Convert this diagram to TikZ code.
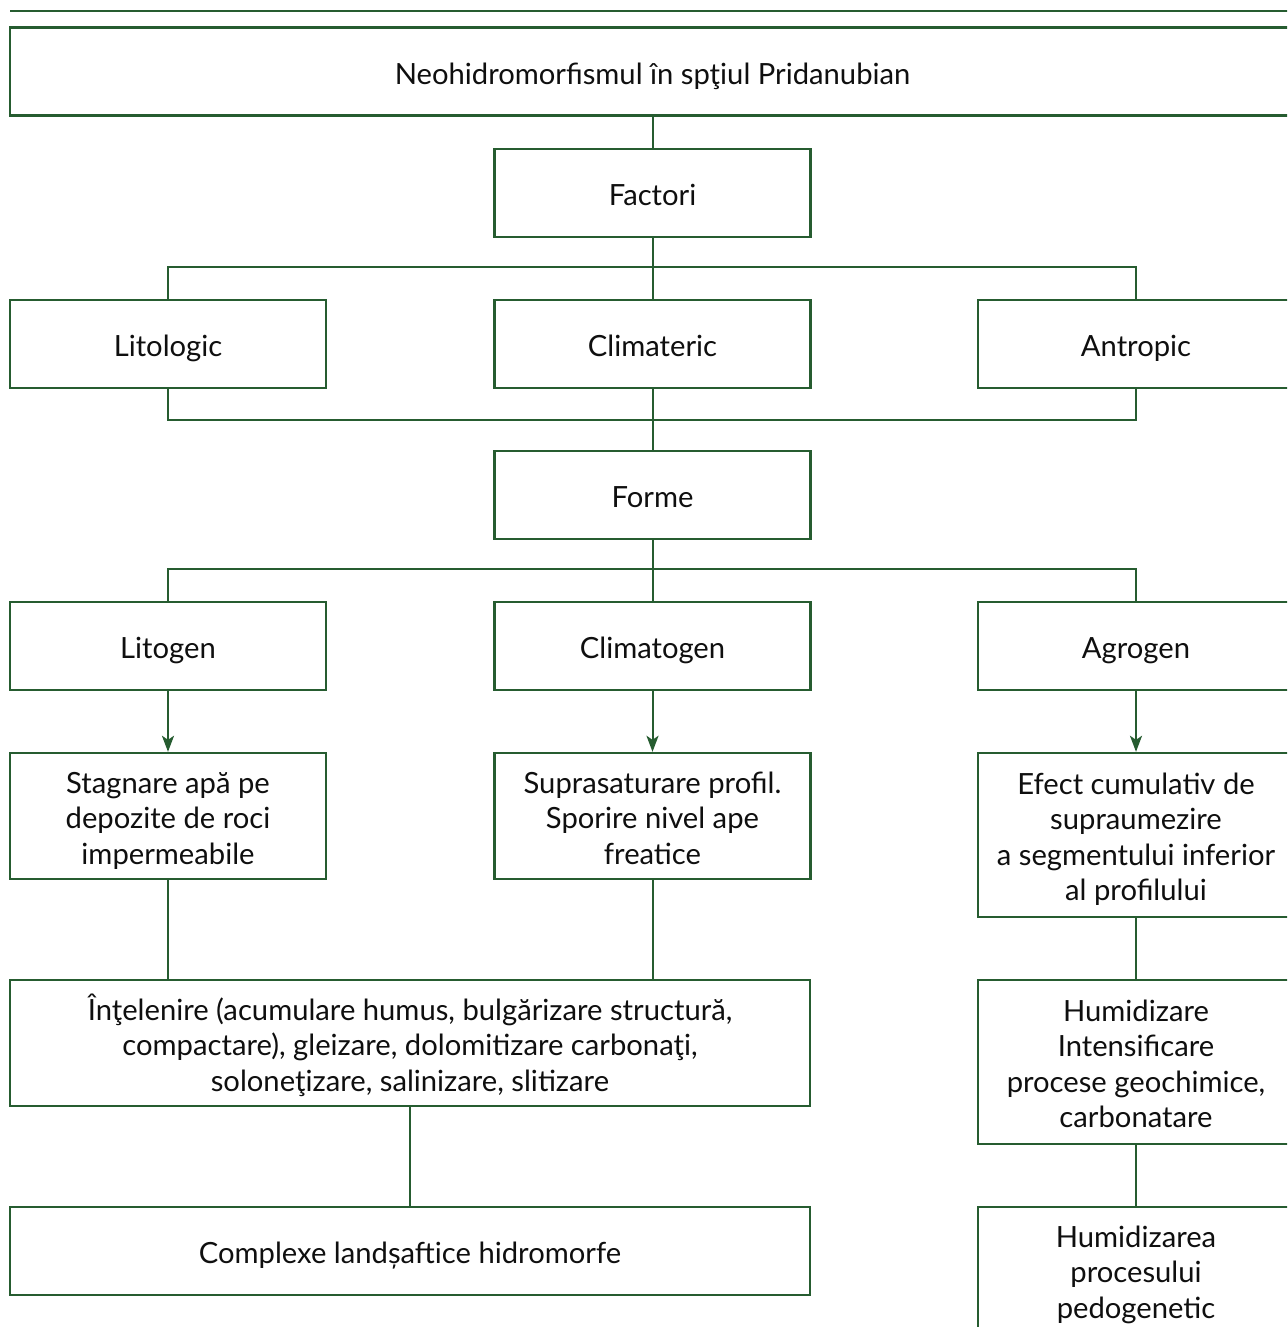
\documentclass[tikz,border=0pt]{standalone}
\usepackage{fontspec}
\setmainfont{Lato}
\usetikzlibrary{arrows.meta}
\definecolor{forest}{RGB}{38,92,48}
\definecolor{ink}{RGB}{15,15,15}
% vertical struts that keep every label at the same optical height
\newcommand{\topstrut}{\rule{0pt}{36pt}}
\newcommand{\botstrut}{\rule[-10.65pt]{0pt}{10.65pt}}
\begin{document}
\begin{tikzpicture}[x=1pt,y=-1pt,
  box/.style={draw=forest,line width=2.4pt,fill=white,minimum width=316pt,
    minimum height=88pt,inner sep=0pt,align=center,text=ink,
    font=\fontsize{29.2}{35.5}\selectfont},
  onerow/.style={box,execute at begin node=\topstrut,execute at end node=\botstrut},
  link/.style={draw=forest,line width=2pt},
  arr/.style={link,-{Stealth[length=16pt,width=12pt,inset=4pt]}}]
\useasboundingbox (0,0) rectangle (1287,1327);
\clip (0,0) rectangle (1287,1327);
\fill[white] (0,0) rectangle (1287,1327);

% heading rule
\coordinate (ruleL) at (10,11);
\coordinate (ruleR) at (1300,11);
\draw[link] (ruleL) -- (ruleR);

% title and factors
\node[onerow,minimum width=1285pt] (top) at (652.5,71.5) {Neohidromorfismul în spţiul Pridanubian};
\node[onerow] (factori) at (652.5,193) {Factori};
\node[onerow] (lito) at (168,344) {Litologic};
\node[onerow] (clim) at (652.5,344) {Climateric};
\node[onerow] (antr) at (1136,344) {Antropic};

% forms
\node[onerow] (forme) at (652.5,495) {Forme};
\node[onerow] (litogen) at (168,646) {Litogen};
\node[onerow] (climatogen) at (652.5,646) {Climatogen};
\node[onerow] (agrogen) at (1136,646) {Agrogen};

% consequences
\node[box,minimum height=126pt] (stag) at (168,816)
  {\topstrut Stagnare apă pe\\depozite de roci\\impermeabile\botstrut};
\node[box,minimum height=126pt] (supra) at (652.5,816)
  {\topstrut Suprasaturare profil.\\Sporire nivel ape\\freatice\botstrut};
\node[box,minimum height=164pt] (efect) at (1136,835)
  {\topstrut Efect cumulativ de\\supraumezire\\a segmentului inferior\\al profilului\botstrut};

\node[box,minimum width=800pt,minimum height=126pt] (intel) at (410,1043)
  {\topstrut Înţelenire (acumulare humus, bulgărizare structură,\\compactare), gleizare, dolomitizare carbonaţi,\\soloneţizare, salinizare, slitizare\botstrut};
\node[box,minimum height=164pt] (humid) at (1136,1062)
  {\topstrut Humidizare\\Intensificare\\procese geochimice,\\carbonatare\botstrut};

\node[onerow,minimum width=800pt] (complexe) at (410,1251) {Complexe landșaftice hidromorfe};
\node[box,minimum height=126pt] (humidp) at (1136,1270)
  {\topstrut Humidizarea\\procesului\\pedogenetic\botstrut};

% connectors
\draw[link] (top.south) -- (factori.north);
\draw[link] (factori.south) -- (clim.north);
\draw[link] (lito.north) -- ++(0,-32) -| (antr.north);
\draw[link] (lito.south) -- ++(0,31) -| (antr.south);
\draw[link] (clim.south) -- (forme.north);
\draw[link] (forme.south) -- (climatogen.north);
\draw[link] (litogen.north) -- ++(0,-32) -| (agrogen.north);

\draw[arr] (litogen.south) -- (stag.north);
\draw[arr] (climatogen.south) -- (supra.north);
\draw[arr] (agrogen.south) -- (efect.north);

\draw[link] (stag.south) -- (stag.south |- intel.north);
\draw[link] (supra.south) -- (supra.south |- intel.north);
\draw[link] (efect.south) -- (humid.north);
\draw[link] (intel.south) -- (complexe.north);
\draw[link] (humid.south) -- (humidp.north);
\end{tikzpicture}
\end{document}
